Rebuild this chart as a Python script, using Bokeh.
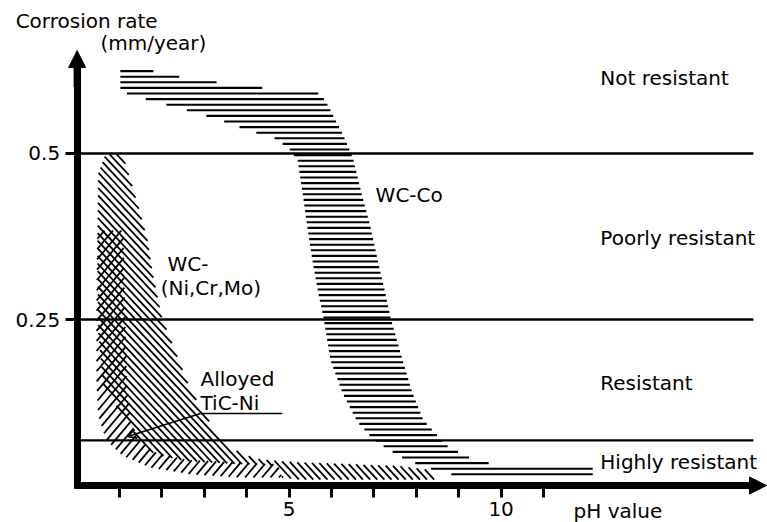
import math
from bokeh.plotting import figure
from bokeh.models import Range1d, FixedTicker, Arrow, NormalHead, OpenHead
from bokeh.core.properties import value
from bokeh.embed import file_html
from bokeh.resources import INLINE

FONT = "DejaVu Sans"

# ---------------- data ----------------
ph_ticks = [1, 2, 3, 4, 5, 6, 7, 8, 9, 10, 11]
ph_tick_labels = {5: "5", 10: "10"}
rate_ticks = [0.25, 0.5]
rate_tick_labels = {0.25: "0.25", 0.5: "0.5"}

class_bounds = [0.5, 0.25, 0.068]
class_names = ["Not resistant", "Poorly resistant", "Resistant", "Highly resistant"]
class_label_rate = [0.613, 0.372, 0.155, 0.036]

# WC-Co scatter band (upper/right edge, lower/left edge)
wcco_upper_ph = [1.02, 1.73, 2.60, 3.55, 4.33, 5.74, 5.93, 6.09, 6.26, 6.38, 6.50, 6.71,
                 6.92, 7.09, 7.27, 7.39, 7.68, 7.91, 8.17, 8.50, 8.74, 9.00, 9.28, 9.75,
                 10.93, 12.16]
wcco_upper_rate = [0.627, 0.625, 0.613, 0.605, 0.599, 0.590, 0.571, 0.550, 0.530, 0.512,
                   0.494, 0.440, 0.389, 0.339, 0.289, 0.253, 0.188, 0.139, 0.098, 0.075,
                   0.059, 0.050, 0.041, 0.033, 0.030, 0.030]
wcco_lower_ph = [12.16, 9.00, 8.45, 8.05, 7.75, 7.51, 7.27, 6.92, 6.61, 6.26, 5.98, 5.81,
                 5.69, 5.55, 5.43, 5.32, 5.20, 4.99, 4.63, 4.02, 3.62, 3.19, 2.75, 2.27,
                 1.80, 1.43, 1.02]
wcco_lower_rate = [0.014, 0.014, 0.023, 0.032, 0.039, 0.048, 0.057, 0.074, 0.096, 0.139,
                   0.188, 0.253, 0.289, 0.339, 0.389, 0.440, 0.490, 0.508, 0.524, 0.535,
                   0.545, 0.554, 0.562, 0.571, 0.578, 0.586, 0.593]

# WC-(Ni,Cr,Mo) band
wcni_upper_ph = [0.67, 1.07, 1.45, 1.66, 1.78, 2.01, 2.37, 2.68, 3.15, 3.45, 3.85, 4.33,
                 5.10, 6.45, 7.63, 8.34, 8.50]
wcni_upper_rate = [0.499, 0.499, 0.419, 0.369, 0.319, 0.250, 0.193, 0.143, 0.093, 0.068,
                   0.048, 0.039, 0.035, 0.032, 0.029, 0.023, 0.009]
wcni_lower_ph = [5.27, 4.84, 4.73, 3.62, 2.56, 1.85, 1.45, 1.26, 0.95, 0.62, 0.50, 0.48, 0.50]
wcni_lower_rate = [0.009, 0.012, 0.030, 0.033, 0.037, 0.047, 0.064, 0.092, 0.118, 0.150,
                   0.233, 0.354, 0.470]

# Alloyed TiC-Ni band
ticni_upper_ph = [0.48, 1.09, 1.12, 1.17, 1.26, 1.45, 1.85, 2.56, 3.62, 4.73, 4.84]
ticni_upper_rate = [0.384, 0.384, 0.279, 0.158, 0.098, 0.068, 0.050, 0.039, 0.035, 0.032, 0.012]
ticni_lower_ph = [3.85, 2.68, 1.73, 1.07, 0.69, 0.50, 0.46, 0.46]
ticni_lower_rate = [0.012, 0.017, 0.027, 0.045, 0.068, 0.105, 0.158, 0.279]

# ---------------- figure ----------------
W, H = 767, 522
X0, X1 = -1.807, 16.283
Y0, Y1 = -0.0557, 0.7304
p = figure(width=W, height=H, output_backend="svg", toolbar_location=None,
           title=None, x_range=Range1d(X0, X1), y_range=Range1d(Y0, Y1),
           min_border=0, min_border_left=0, min_border_right=0,
           min_border_top=0, min_border_bottom=0)
p.outline_line_color = None
p.grid.visible = False
p.background_fill_color = "white"
p.border_fill_color = "white"

PXU = W / (X1 - X0)   # pixels per pH unit
PYU = H / (Y1 - Y0)   # pixels per mm/year


def hatch(xs, ys, angle_deg, spacing_px):
    """Clip a family of parallel lines (screen angle, pixel spacing) to a polygon."""
    X = [x * PXU for x in xs]
    Y = [y * PYU for y in ys]
    n = len(X)
    a = math.radians(angle_deg)
    dx, dy = math.cos(a), math.sin(a)
    nx, ny = -dy, dx
    proj = [nx * X[i] + ny * Y[i] for i in range(n)]
    out_x, out_y = [], []
    k0 = math.ceil(min(proj) / spacing_px)
    k1 = math.floor(max(proj) / spacing_px)
    for k in range(k0, k1 + 1):
        c = k * spacing_px + 0.001
        pts = []
        for i in range(n):
            j = (i + 1) % n
            v1, v2 = proj[i] - c, proj[j] - c
            if (v1 > 0) != (v2 > 0):
                t = v1 / (v1 - v2)
                px = X[i] + t * (X[j] - X[i])
                py = Y[i] + t * (Y[j] - Y[i])
                pts.append((dx * px + dy * py, px, py))
        pts.sort()
        for m in range(0, len(pts) - 1, 2):
            out_x.append([pts[m][1] / PXU, pts[m + 1][1] / PXU])
            out_y.append([pts[m][2] / PYU, pts[m + 1][2] / PYU])
    return out_x, out_y


# axes, fixed at pH 0 / rate 0
for ax in (p.xaxis[0], p.yaxis[0]):
    ax.fixed_location = 0
    ax.axis_line_width = 7
    ax.axis_line_color = "black"
    ax.major_tick_line_width = 3
    ax.major_tick_line_color = "black"
    ax.major_tick_in = 0
    ax.major_tick_out = 12
    ax.minor_tick_line_color = None
    ax.major_label_text_font = FONT
    ax.major_label_text_color = "black"
    ax.major_label_text_font_size = "20px"

p.xaxis.ticker = FixedTicker(ticks=ph_ticks)
p.xaxis.major_label_overrides = {t: ph_tick_labels.get(t, "") for t in ph_ticks}
p.xaxis.major_label_standoff = 4
p.xaxis.bounds = (-0.05, 15.9)

p.yaxis.ticker = FixedTicker(ticks=rate_ticks)
p.yaxis.major_label_overrides = rate_tick_labels
p.yaxis.major_label_standoff = 5
p.yaxis.bounds = (-0.004, 0.63)

# arrow heads on the axes
p.add_layout(Arrow(end=NormalHead(size=17, fill_color="black", line_color="black"),
                   x_start=0, y_start=0.60, x_end=0, y_end=0.655,
                   line_width=7, line_color="black"))
p.add_layout(Arrow(end=NormalHead(size=17, fill_color="black", line_color="black"),
                   x_start=15.6, y_start=0, x_end=16.26, y_end=0,
                   line_width=7, line_color="black"))

# class boundary lines
p.segment(x0=[0] * len(class_bounds), y0=class_bounds,
          x1=[15.95] * len(class_bounds), y1=class_bounds,
          line_color="black", line_width=2.3)

# hatched bands
hx, hy = hatch(wcco_upper_ph + wcco_lower_ph, wcco_upper_rate + wcco_lower_rate, 0, 5.6)
p.multi_line(hx, hy, line_color="black", line_width=2.1, line_cap="butt")

hx, hy = hatch(wcni_upper_ph + wcni_lower_ph, wcni_upper_rate + wcni_lower_rate, -47, 5.2)
p.multi_line(hx, hy, line_color="black", line_width=1.8, line_cap="butt")

hx, hy = hatch(ticni_upper_ph + ticni_lower_ph, ticni_upper_rate + ticni_lower_rate, 50, 6.5)
p.multi_line(hx, hy, line_color="black", line_width=1.8, line_cap="butt")

# category labels
p.text(x=[12.34] * len(class_names), y=class_label_rate, text=class_names,
       text_font=value(FONT), text_font_size="20px", text_align="left",
       text_baseline="middle", text_color="black")

# band labels
p.text(x=[7.04, 2.13, 1.97, 2.91, 2.91], y=[0.437, 0.334, 0.298, 0.161, 0.125],
       text=["WC-Co", "WC-", "(Ni,Cr,Mo)", "Alloyed", "TiC-Ni"],
       text_font=value(FONT), text_font_size="20px", text_align="left",
       text_baseline="middle", text_color="black")

# leader for Alloyed TiC-Ni
p.segment(x0=[2.91], y0=[0.1084], x1=[4.84], y1=[0.1084], line_color="black", line_width=1.6)
p.add_layout(Arrow(end=OpenHead(size=9, line_width=1.6, line_color="black"),
                   x_start=2.91, y_start=0.1084, x_end=1.19, y_end=0.0738,
                   line_width=1.6, line_color="black"))

# axis titles
p.text(x=[-1.45, 0.55, 11.71], y=[0.700, 0.667, -0.038],
       text=["Corrosion rate", "(mm/year)", "pH value"],
       text_font=value(FONT), text_font_size="20px", text_align="left",
       text_baseline="middle", text_color="black")

open("out.html", "w").write(file_html(p, INLINE))
